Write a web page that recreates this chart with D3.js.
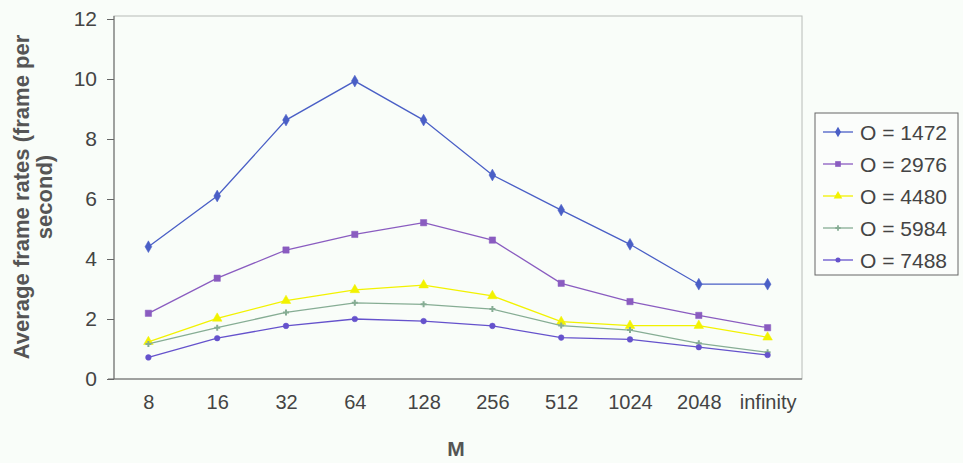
<!DOCTYPE html>
<html><head><meta charset="utf-8">
<script src="https://cdn.jsdelivr.net/npm/d3@7"></script>
<style>body{margin:0;background:#f9fdf9;}svg{display:block;}</style>
</head><body>
<svg id="c" width="963" height="463"></svg>
<script>
const categories = ["8","16","32","64","128","256","512","1024","2048","infinity"];
const seriesNames = ["O = 1472","O = 2976","O = 4480","O = 5984","O = 7488"];
const s1472 = [4.41,6.10,8.63,9.93,8.63,6.80,5.63,4.49,3.16,3.16];
const s2976 = [2.19,3.36,4.30,4.82,5.21,4.63,3.19,2.58,2.12,1.71];
const s4480 = [1.24,2.02,2.61,2.97,3.13,2.77,1.91,1.78,1.78,1.39];
const s5984 = [1.17,1.71,2.22,2.54,2.49,2.33,1.78,1.63,1.19,0.89];
const s7488 = [0.72,1.36,1.77,2.00,1.93,1.77,1.38,1.32,1.06,0.80];
const yTicks = [0,2,4,6,8,10,12];

const seriesValues = [s1472,s2976,s4480,s5984,s7488];
const colors = ["#4a5fc6","#8a5cc0","#f2f200","#86ad94","#6552cc"];
const markers = [d3.symbolDiamond, d3.symbolSquare, d3.symbolTriangle, d3.symbolCross, d3.symbolCircle];
const msize = [40,40,40,20,25];
const FONT = "Liberation Sans, Arial, sans-serif";

const svg = d3.select("#c");
const L=114, R=802, T=19, B=379;
const x = d3.scalePoint().domain(categories).range([L,R]).padding(0.5);
const y = d3.scaleLinear().domain([0,12]).range([B,T]);

svg.append("rect").attr("x",0).attr("y",0).attr("width",963).attr("height",463).attr("fill","#f9fdf9");
// plot frame
svg.append("rect").attr("x",L).attr("y",16).attr("width",R-L).attr("height",B-16)
  .attr("fill","none").attr("stroke","#b8bcb8").attr("stroke-width",1);

// y axis
const ya = svg.append("g").attr("transform",`translate(${L},0)`)
  .call(d3.axisLeft(y).tickValues(yTicks).tickSize(7).tickPadding(10));
ya.select(".domain").attr("stroke","#666").attr("d",`M0,16V${B}`);
ya.selectAll(".tick line").attr("stroke","#666");
ya.selectAll("text").attr("font-family",FONT).attr("font-size",21).attr("fill","#444");

// x axis line
svg.append("line").attr("x1",L-6).attr("x2",R).attr("y1",B).attr("y2",B).attr("stroke","#666");
const xa = svg.append("g").attr("transform",`translate(0,${B})`)
  .call(d3.axisBottom(x).tickSize(0).tickPadding(16));
xa.select(".domain").remove();
xa.selectAll("text").attr("font-family",FONT).attr("font-size",20).attr("fill","#444");

// axis titles
const yt = svg.append("text").attr("transform","translate(29,197) rotate(-90)")
  .attr("text-anchor","middle").attr("font-family",FONT)
  .attr("font-weight","bold").attr("font-size",22).attr("fill","#555");
yt.append("tspan").attr("x",0).attr("dy",0).text("Average frame rates (frame per");
yt.append("tspan").attr("x",0).attr("dy",23).text("second)");
svg.append("text").attr("x",456).attr("y",456).attr("text-anchor","middle")
  .attr("font-family",FONT).attr("font-weight","bold")
  .attr("font-size",21).attr("fill","#555").text("M");

// lines
const line = d3.line().x((d,i)=>x(categories[i])).y(d=>y(d));
seriesValues.forEach((vals,si)=>{
  svg.append("path").datum(vals).attr("d",line).attr("fill","none")
    .attr("stroke",colors[si]).attr("stroke-width",1.3);
  svg.selectAll(null).data(vals).enter().append("path")
    .attr("transform",(d,i)=>`translate(${x(categories[i])},${y(d)})`)
    .attr("d",d3.symbol().type(markers[si]).size(msize[si]))
    .attr("fill",colors[si]).attr("stroke",colors[si]).attr("stroke-width",si===3?0:0.5);
});

// legend
const lg = svg.append("g");
lg.append("rect").attr("x",815).attr("y",113).attr("width",143).attr("height",162)
  .attr("fill","#fbfdfb").attr("stroke","#666").attr("stroke-width",1);
const ly = [132,164,196,228,260];
seriesNames.forEach((n,i)=>{
  lg.append("line").attr("x1",823).attr("x2",853).attr("y1",ly[i]).attr("y2",ly[i])
    .attr("stroke",colors[i]).attr("stroke-width",1.3);
  lg.append("path").attr("transform",`translate(838,${ly[i]})`)
    .attr("d",d3.symbol().type(markers[i]).size(msize[i]*0.8)).attr("fill",colors[i]);
  lg.append("text").attr("x",860).attr("y",ly[i]+8).attr("font-family",FONT)
    .attr("font-size",21).attr("fill","#444").text(n);
});
</script>
</body></html>
